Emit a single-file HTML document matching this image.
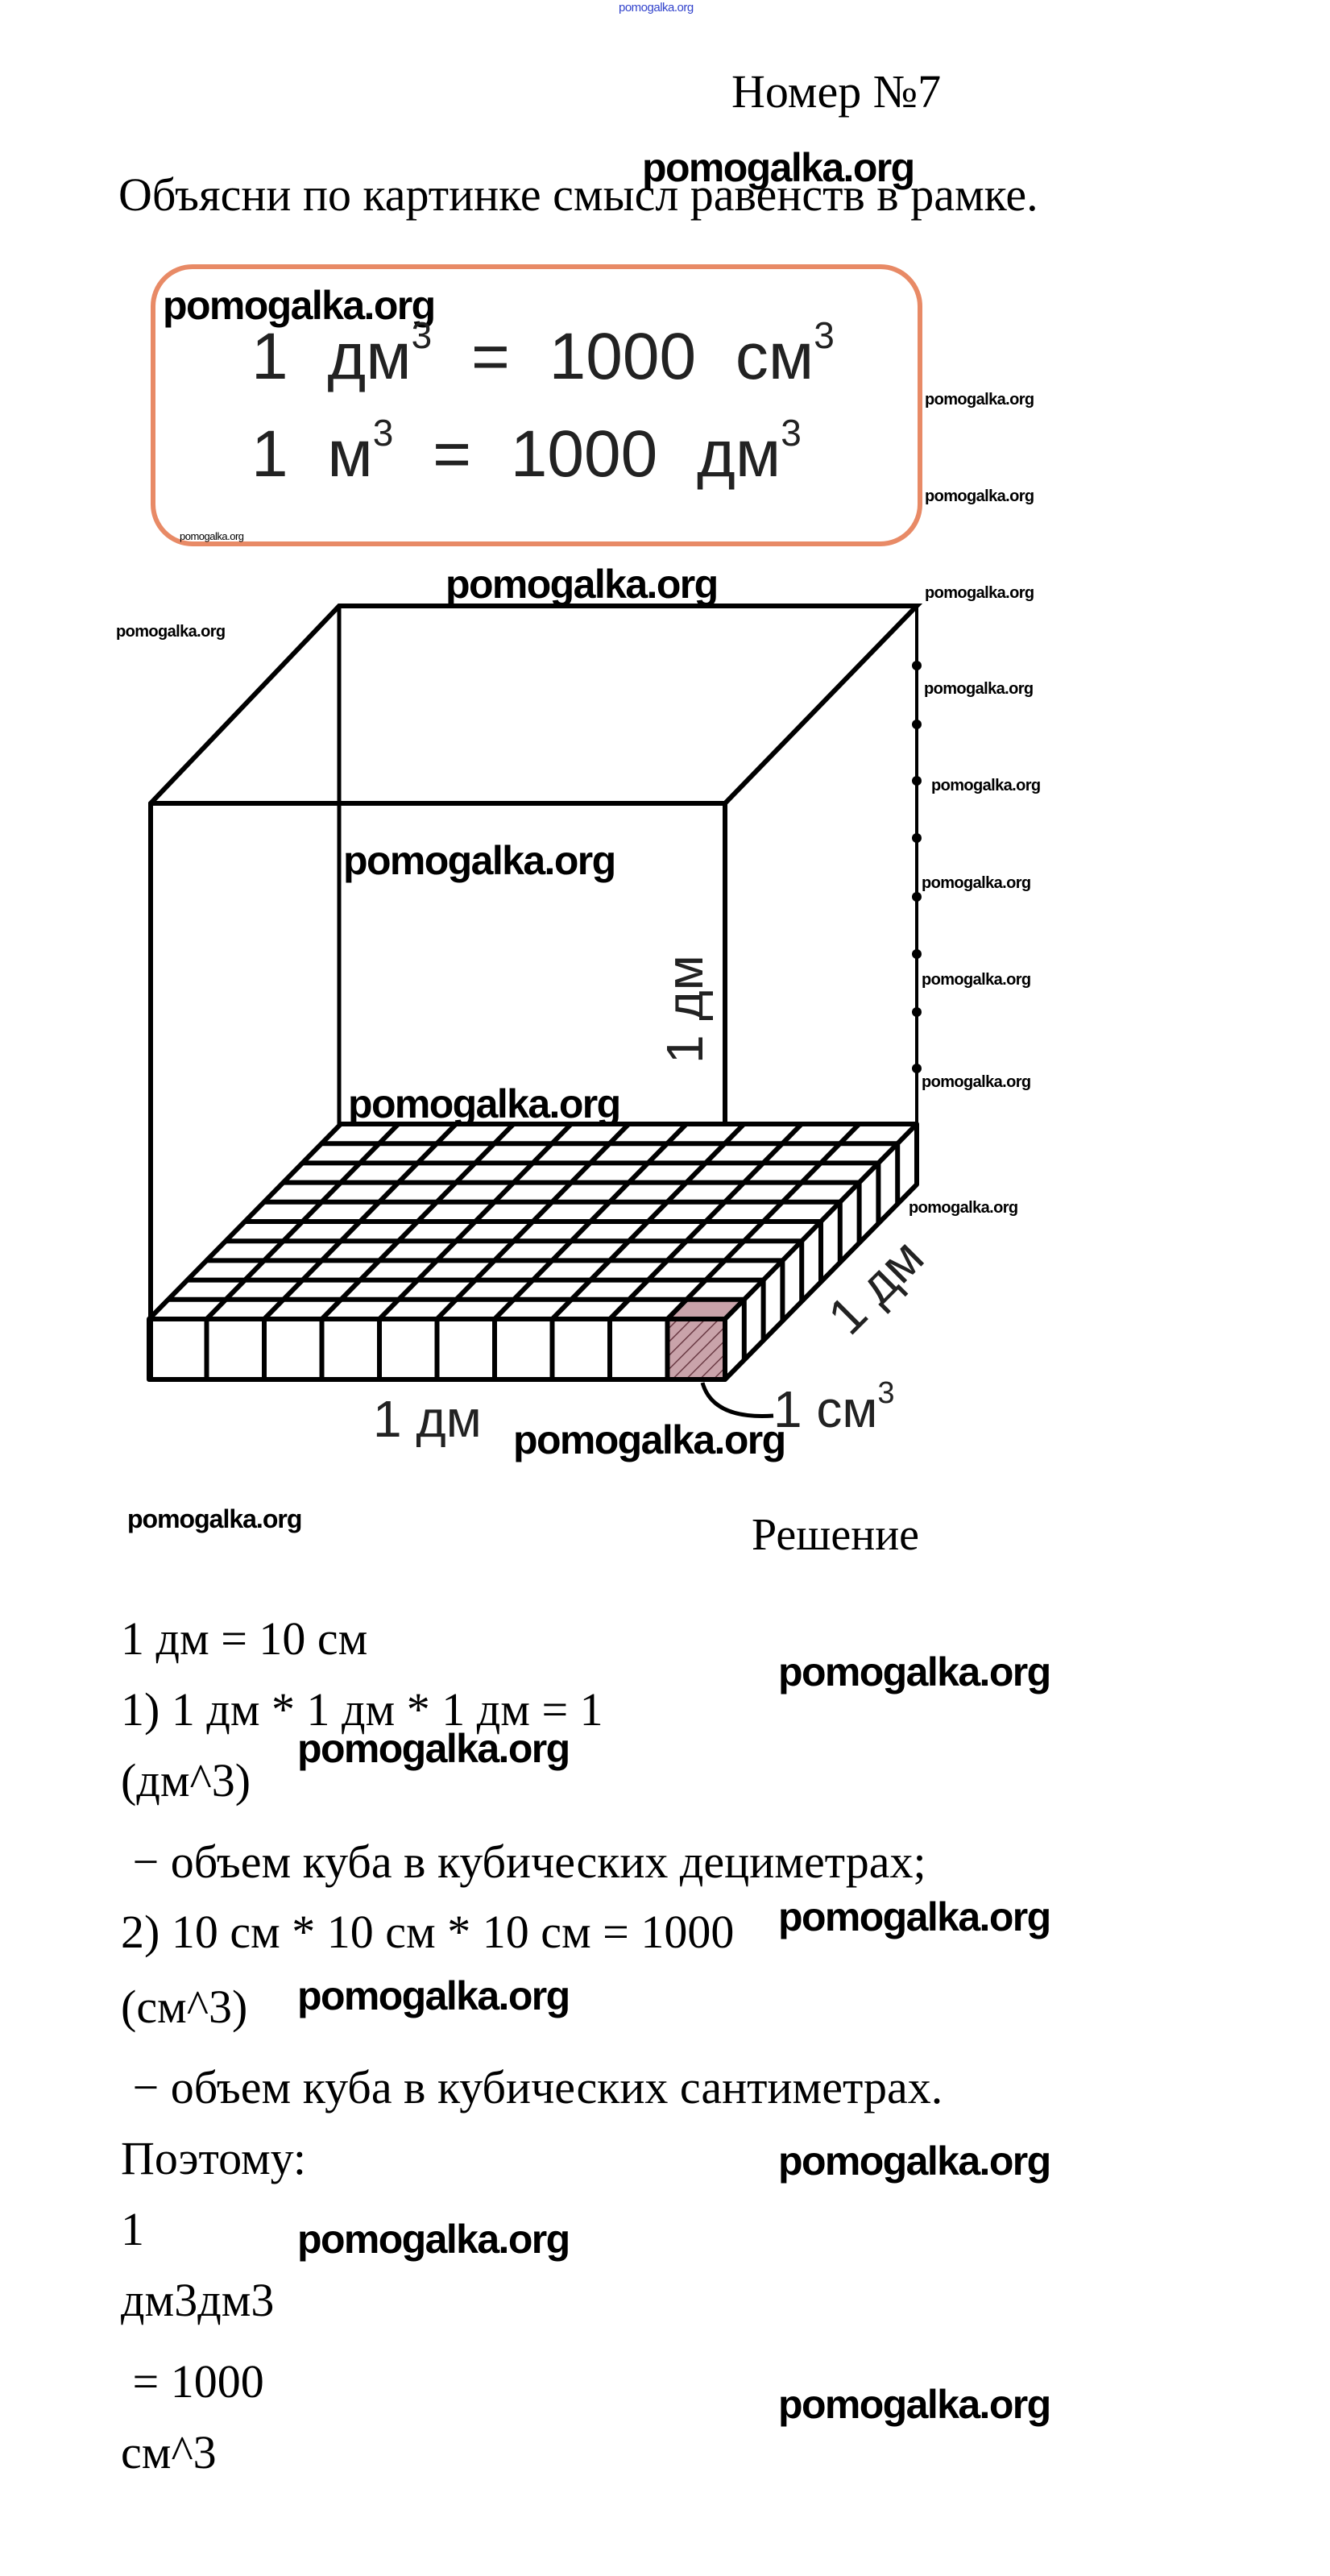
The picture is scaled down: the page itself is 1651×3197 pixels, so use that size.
<!DOCTYPE html>
<html><head><meta charset="utf-8"><style>
body{margin:0;background:#fff}
#p{position:relative;width:1651px;height:3197px;overflow:hidden;background:#fff}
.t{position:absolute;white-space:nowrap;line-height:1;font-family:"Liberation Serif",serif;color:#000}
.w{position:absolute;white-space:nowrap;line-height:1;font-family:"Liberation Sans",sans-serif;font-weight:bold;color:#000}
.big{font-size:50px;letter-spacing:-1.6px}
.sm{font-size:20px;letter-spacing:-0.6px}
.eq{position:absolute;white-space:nowrap;line-height:1;font-family:"Liberation Sans",sans-serif;font-size:82px;color:#222;word-spacing:26px}
.eq sup{font-size:46px;vertical-align:0;position:relative;top:-38px}
</style></head><body><div id="p">
<div class="w" style="left:768px;top:2px;font-size:15px;font-weight:normal;color:#3344cc;letter-spacing:-0.5px">pomogalka.org</div>
<div class="t" style="left:908px;top:85px;font-size:58px">Номер №7</div>
<div class="w big" style="left:797px;top:183px">pomogalka.org</div>
<div class="t" style="left:147px;top:213px;font-size:58px">Объясни по картинке смысл равенств в рамке.</div>

<div style="position:absolute;left:187px;top:328px;width:946px;height:338px;border:6px solid #e88a66;border-radius:52px"></div>
<div class="w big" style="left:202px;top:354px">pomogalka.org</div>
<div class="eq" style="left:312px;top:402px">1 дм<sup>3</sup> = 1000 см<sup>3</sup></div>
<div class="eq" style="left:312px;top:523px">1 м<sup>3</sup> = 1000 дм<sup>3</sup></div>
<div class="w" style="left:223px;top:659px;font-size:13px;font-weight:normal;letter-spacing:-0.5px">pomogalka.org</div>

<svg style="position:absolute;left:0;top:0" width="1651" height="1900" viewBox="0 0 1651 1900">
<defs><pattern id="h" width="12" height="12" patternUnits="userSpaceOnUse" patternTransform="rotate(-45)"><rect width="12" height="12" fill="#c9a3aa"/><line x1="0" y1="0" x2="12" y2="0" stroke="#6b3b45" stroke-width="3"/></pattern></defs>
<g stroke="#000" stroke-linecap="round" fill="none">
<polyline points="187,1712 187,997 421,752 1138,752 900,997 187,997" stroke-width="6"/>
<line x1="421" y1="752" x2="421" y2="1395" stroke-width="5"/>
<line x1="900" y1="997" x2="900" y2="1712" stroke-width="6"/>
<line x1="1138" y1="752" x2="1138" y2="1395" stroke-width="4"/>
</g>
<g fill="#000">
<circle cx="1138" cy="826" r="6"/><circle cx="1138" cy="899" r="6"/><circle cx="1138" cy="969" r="6"/><circle cx="1138" cy="1040" r="6"/><circle cx="1138" cy="1113" r="6"/><circle cx="1138" cy="1184" r="6"/><circle cx="1138" cy="1256" r="6"/><circle cx="1138" cy="1326" r="6"/>
</g>
<polygon points="185,1637 423,1395 1138,1395 900,1637" fill="#fff"/>
<rect x="827" y="1637" width="73" height="75" fill="url(#h)"/>
<polygon points="827,1637 900,1637 924,1613 851,1613" fill="#c9a3aa"/>
<g stroke="#000" stroke-width="6" fill="none" stroke-linejoin="round">
<polygon points="185,1637 423,1395 1138,1395 900,1637"/>
<polyline points="185,1637 185,1712 900,1712 1138,1470 1138,1395"/>
<line x1="900" y1="1637" x2="900" y2="1712"/>
</g>
<g stroke="#000" stroke-width="6" fill="none">
<line x1="208.8" y1="1612.8" x2="923.8" y2="1612.8"/>
<line x1="232.6" y1="1588.6" x2="947.6" y2="1588.6"/>
<line x1="256.4" y1="1564.4" x2="971.4" y2="1564.4"/>
<line x1="280.2" y1="1540.2" x2="995.2" y2="1540.2"/>
<line x1="304" y1="1516" x2="1019" y2="1516"/>
<line x1="327.8" y1="1491.8" x2="1042.8" y2="1491.8"/>
<line x1="351.6" y1="1467.6" x2="1066.6" y2="1467.6"/>
<line x1="375.4" y1="1443.4" x2="1090.4" y2="1443.4"/>
<line x1="399.2" y1="1419.2" x2="1114.2" y2="1419.2"/>
<polyline points="256.5,1712 256.5,1637 494.5,1395"/>
<polyline points="328,1712 328,1637 566,1395"/>
<polyline points="399.5,1712 399.5,1637 637.5,1395"/>
<polyline points="471,1712 471,1637 709,1395"/>
<polyline points="542.5,1712 542.5,1637 780.5,1395"/>
<polyline points="614,1712 614,1637 852,1395"/>
<polyline points="685.5,1712 685.5,1637 923.5,1395"/>
<polyline points="757,1712 757,1637 995,1395"/>
<polyline points="828.5,1712 828.5,1637 1066.5,1395"/>
<line x1="923.8" y1="1612.8" x2="923.8" y2="1687.8"/>
<line x1="947.6" y1="1588.6" x2="947.6" y2="1663.6"/>
<line x1="971.4" y1="1564.4" x2="971.4" y2="1639.4"/>
<line x1="995.2" y1="1540.2" x2="995.2" y2="1615.2"/>
<line x1="1019" y1="1516" x2="1019" y2="1591"/>
<line x1="1042.8" y1="1491.8" x2="1042.8" y2="1566.8"/>
<line x1="1066.6" y1="1467.6" x2="1066.6" y2="1542.6"/>
<line x1="1090.4" y1="1443.4" x2="1090.4" y2="1518.4"/>
<line x1="1114.2" y1="1419.2" x2="1114.2" y2="1494.2"/>
</g>
<path d="M872,1716 Q885,1762 960,1757" stroke="#000" stroke-width="5" fill="none"/>
<g font-family="Liberation Sans, sans-serif" font-size="64" fill="#222">
<text transform="translate(872,1320) rotate(-90)">1 дм</text>
<text transform="translate(1055,1660) rotate(-45)">1 дм</text>
<text x="463" y="1783">1 дм</text>
<text x="960" y="1771">1 см<tspan font-size="38" dy="-30">3</tspan></text>
</g>
</svg>

<div class="w big" style="left:553px;top:700px">pomogalka.org</div>
<div class="w sm" style="left:144px;top:774px">pomogalka.org</div>
<div class="w sm" style="left:1148px;top:486px">pomogalka.org</div>
<div class="w sm" style="left:1148px;top:606px">pomogalka.org</div>
<div class="w sm" style="left:1148px;top:726px">pomogalka.org</div>
<div class="w sm" style="left:1147px;top:845px">pomogalka.org</div>
<div class="w sm" style="left:1156px;top:965px">pomogalka.org</div>
<div class="w sm" style="left:1144px;top:1086px">pomogalka.org</div>
<div class="w sm" style="left:1144px;top:1206px">pomogalka.org</div>
<div class="w sm" style="left:1144px;top:1333px">pomogalka.org</div>
<div class="w sm" style="left:1128px;top:1489px">pomogalka.org</div>
<div class="w big" style="left:426px;top:1043px">pomogalka.org</div>
<div class="w big" style="left:432px;top:1345px">pomogalka.org</div>
<div class="w big" style="left:637px;top:1762px">pomogalka.org</div>
<div class="w" style="left:158px;top:1869px;font-size:32px;letter-spacing:-1px">pomogalka.org</div>

<div class="t" style="left:933px;top:1877px;font-size:56px">Решение</div>
<div class="t" style="left:150px;top:2005px;font-size:58px">1 дм = 10 см</div>
<div class="t" style="left:150px;top:2093px;font-size:58px">1) 1 дм * 1 дм * 1 дм = 1</div>
<div class="t" style="left:150px;top:2181px;font-size:58px">(дм^3)</div>
<div class="t" style="left:150px;top:2282px;font-size:58px">&nbsp;− объем куба в кубических дециметрах;</div>
<div class="t" style="left:150px;top:2369px;font-size:58px">2) 10 см * 10 см * 10 см = 1000</div>
<div class="t" style="left:150px;top:2462px;font-size:58px">(см^3)</div>
<div class="t" style="left:150px;top:2562px;font-size:58px">&nbsp;− объем куба в кубических сантиметрах.</div>
<div class="t" style="left:150px;top:2650px;font-size:58px">Поэтому:</div>
<div class="t" style="left:150px;top:2738px;font-size:58px">1</div>
<div class="t" style="left:150px;top:2826px;font-size:58px">дм3дм3</div>
<div class="t" style="left:150px;top:2927px;font-size:58px">&nbsp;= 1000</div>
<div class="t" style="left:150px;top:3015px;font-size:58px">см^3</div>

<div class="w big" style="left:966px;top:2050px">pomogalka.org</div>
<div class="w big" style="left:369px;top:2145px">pomogalka.org</div>
<div class="w big" style="left:966px;top:2354px">pomogalka.org</div>
<div class="w big" style="left:369px;top:2452px">pomogalka.org</div>
<div class="w big" style="left:966px;top:2657px">pomogalka.org</div>
<div class="w big" style="left:369px;top:2754px">pomogalka.org</div>
<div class="w big" style="left:966px;top:2959px">pomogalka.org</div>
</div></body></html>
